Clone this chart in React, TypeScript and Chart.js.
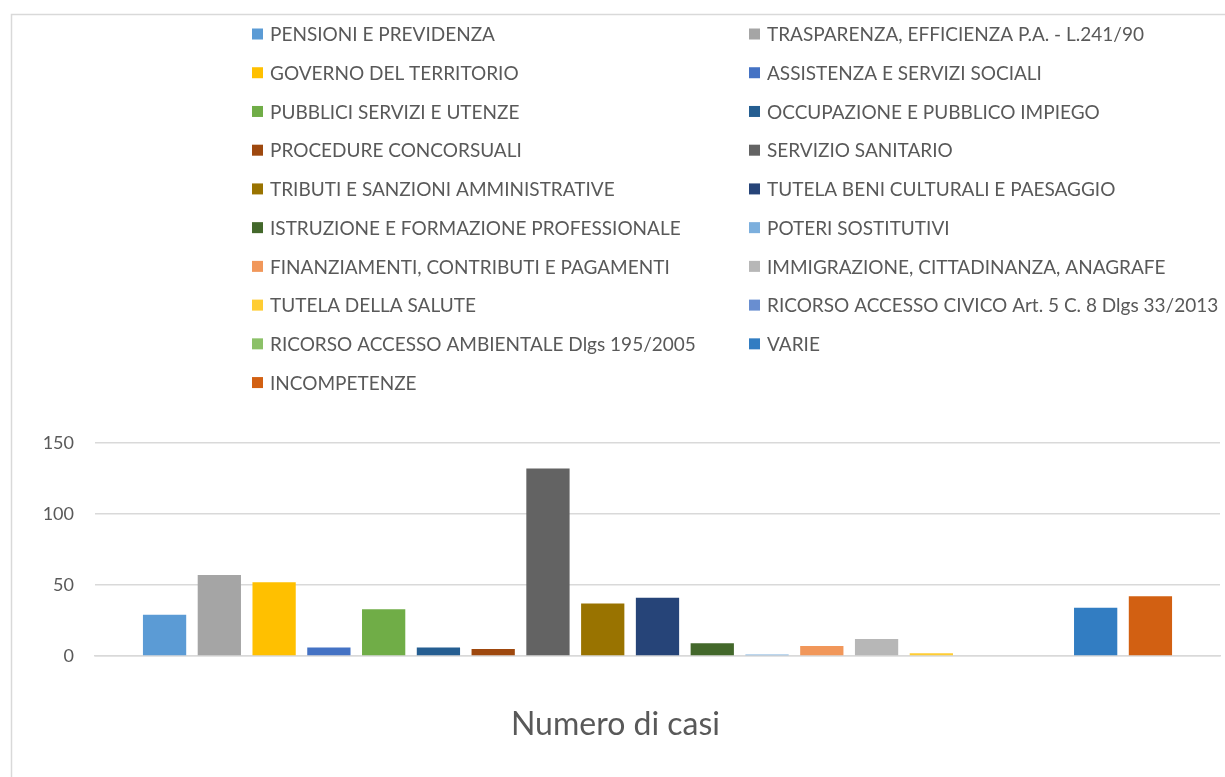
import React, { useEffect, useRef } from "react";
import { Chart, registerables } from "chart.js";

Chart.register(...registerables);

const CATEGORIES = ["Numero di casi"];

const SERIES_LABELS = [
  "PENSIONI E PREVIDENZA",
  "TRASPARENZA, EFFICIENZA P.A. - L.241/90",
  "GOVERNO DEL TERRITORIO",
  "ASSISTENZA E SERVIZI SOCIALI",
  "PUBBLICI SERVIZI E UTENZE",
  "OCCUPAZIONE E PUBBLICO IMPIEGO",
  "PROCEDURE CONCORSUALI",
  "SERVIZIO SANITARIO",
  "TRIBUTI E SANZIONI AMMINISTRATIVE",
  "TUTELA BENI CULTURALI E PAESAGGIO",
  "ISTRUZIONE E FORMAZIONE PROFESSIONALE",
  "POTERI SOSTITUTIVI",
  "FINANZIAMENTI, CONTRIBUTI E PAGAMENTI",
  "IMMIGRAZIONE, CITTADINANZA, ANAGRAFE",
  "TUTELA DELLA SALUTE",
  "RICORSO ACCESSO CIVICO Art. 5 C. 8 Dlgs 33/2013",
  "RICORSO ACCESSO AMBIENTALE Dlgs 195/2005",
  "VARIE",
  "INCOMPETENZE",
];

const SERIES_VALUES = [29, 57, 52, 6, 33, 6, 5, 132, 37, 41, 9, 1, 7, 12, 2, 0, 0, 34, 42];

const SERIES_COLORS = [
  "#5B9BD5",
  "#A5A5A5",
  "#FFC000",
  "#4472C4",
  "#70AD47",
  "#255E91",
  "#9E480E",
  "#636363",
  "#997300",
  "#264478",
  "#43682B",
  "#7CAFDD",
  "#F1975A",
  "#B7B7B7",
  "#FFCD33",
  "#698ED0",
  "#8CC168",
  "#327DC2",
  "#D26012",
];

const Y_TICKS = [0, 50, 100, 150];

const FONT = "Lato";
const TEXT_COLOR = "#595959";
const GRID_COLOR = "#d9d9d9";

const legendPlugin = {
  id: "twoColLegend",
  afterDraw(chart: any) {
    const ctx = chart.ctx;
    ctx.save();
    ctx.font = `19px ${FONT}`;
    ctx.textBaseline = "middle";
    ctx.textAlign = "left";
    chart.data.datasets.forEach((ds: any, i: number) => {
      const col = i % 2;
      const row = Math.floor(i / 2);
      const x = col ? 749 : 252;
      const y = 34 + row * 38.73;
      ctx.fillStyle = ds.backgroundColor;
      ctx.fillRect(x, y - 5.5, 11, 11);
      ctx.fillStyle = TEXT_COLOR;
      ctx.fillText(ds.label, x + 18, y + 1);
    });
    ctx.restore();
  },
};

const framePlugin = {
  id: "frame",
  beforeDraw(chart: any) {
    const ctx = chart.ctx;
    ctx.save();
    ctx.fillStyle = "#ffffff";
    ctx.fillRect(0, 0, chart.width, chart.height);
    ctx.strokeStyle = GRID_COLOR;
    ctx.lineWidth = 1.5;
    ctx.strokeRect(11.5, 14.5, 1400, 1000);
    ctx.restore();
  },
};

export default function App() {
  const ref = useRef<HTMLCanvasElement | null>(null);

  useEffect(() => {
    if (!ref.current) return;
    const chart = new Chart(ref.current, {
      type: "bar",
      data: {
        labels: CATEGORIES,
        datasets: SERIES_LABELS.map((label, i) => ({
          label,
          data: [SERIES_VALUES[i]],
          backgroundColor: SERIES_COLORS[i],
          borderWidth: 0,
          categoryPercentage: 0.925,
          barPercentage: 0.79,
        })),
      },
      options: {
        animation: false,
        responsive: false,
        devicePixelRatio: 1,
        layout: { padding: { top: 443, left: 0, right: 5, bottom: 0 } },
        plugins: {
          legend: { display: false },
          tooltip: { enabled: false },
          title: { display: false },
        },
        scales: {
          x: {
            grid: { display: false, drawTicks: false },
            border: { display: true, color: GRID_COLOR, width: 1.5 },
            ticks: {
              font: { family: FONT, size: 32 },
              color: TEXT_COLOR,
              padding: 49,
              labelOffset: -42,
            },
            afterFit(scale: any) {
              scale.height = 121;
            },
          },
          y: {
            min: 0,
            max: 150,
            afterBuildTicks(scale: any) {
              scale.ticks = Y_TICKS.map((v) => ({ value: v }));
            },
            grid: { color: GRID_COLOR, lineWidth: 1.5, drawTicks: false },
            border: { display: false },
            ticks: {
              font: { family: FONT, size: 18 },
              color: TEXT_COLOR,
              padding: 21,
            },
            afterFit(scale: any) {
              scale.width = 95;
            },
          },
        },
      },
      plugins: [framePlugin, legendPlugin],
    });
    return () => chart.destroy();
  }, []);

  return (
    <div style={{ position: "fixed", left: 0, top: 0, width: 1225, height: 777, background: "#fff" }}>
      <canvas ref={ref} width={1225} height={777} style={{ display: "block" }} />
    </div>
  );
}
